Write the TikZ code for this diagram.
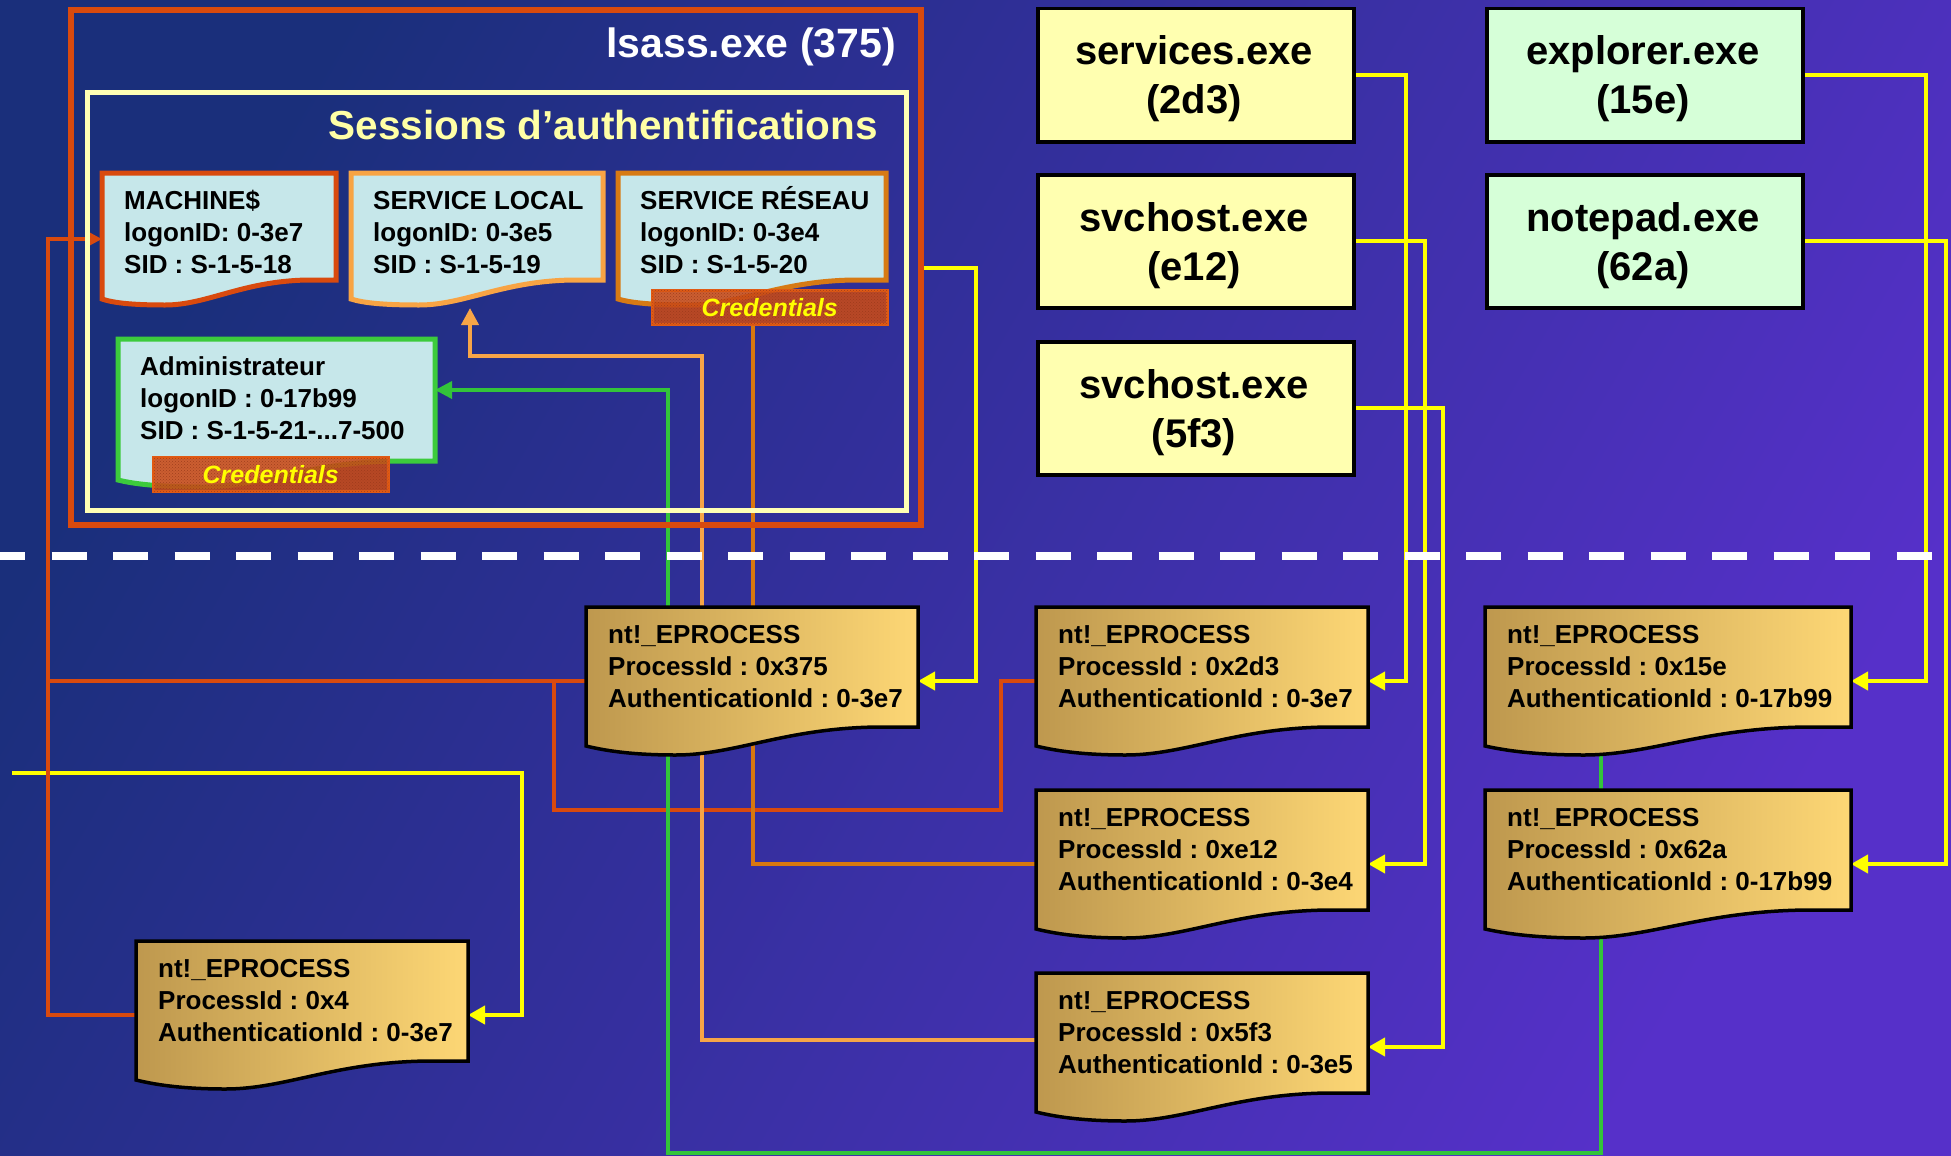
\documentclass[tikz,border=0pt]{standalone}
\usepackage{fontspec}
\setmainfont{Liberation Sans}
\usetikzlibrary{arrows.meta,calc,patterns}
\frenchspacing
\pgfdeclarelayer{bg}
\pgfdeclarelayer{conn}
\pgfsetlayers{bg,conn,main}
\definecolor{bgTL}{HTML}{1A2F7B}
\definecolor{bgBR}{HTML}{5630C9}
\definecolor{lsassRed}{HTML}{D94A0E}
\definecolor{creamLine}{HTML}{FFFFB4}
\definecolor{sessTxt}{HTML}{FFFFA6}
\definecolor{docCyan}{HTML}{C6E7EA}
\definecolor{slocalOr}{HTML}{F8A444}
\definecolor{sreseauOr}{HTML}{D77A14}
\definecolor{adminGreen}{HTML}{3CCB3C}
\definecolor{credFill}{HTML}{CC4C18}
\definecolor{credBorder}{HTML}{E05A14}
\definecolor{credDot}{HTML}{9A3A1A}
\definecolor{procYellow}{HTML}{FFFFB0}
\definecolor{procGreen}{HTML}{D6FFD8}
\definecolor{goldA}{HTML}{BE984E}
\definecolor{goldB}{HTML}{FDD775}
\definecolor{yLink}{HTML}{FFFF00}
\definecolor{gLink}{HTML}{33C43A}
\definecolor{oLink}{HTML}{D8780F}
\definecolor{loLink}{HTML}{F7A547}
\tikzset{
  docbox/.style={inner sep=0pt, outer sep=0pt},
  doctext/.style={inner sep=0pt, font=\fontsize{26}{32}\selectfont\bfseries, text=black},
  sessdoc/.style={fill=docCyan, line width=5pt},
  eproc/.style={left color=goldA, right color=goldB, draw=black, line width=3.5pt},
  procbox/.style={draw=black, line width=3.5pt, minimum width=316, minimum height=133, inner sep=0pt},
  proctext/.style={inner sep=0pt, font=\fontsize{40}{49}\selectfont\bfseries, text=black},
  credbox/.style={fill=credFill, draw=credBorder, line width=2.5pt, fill opacity=0.88, text opacity=1,
    minimum width=235, minimum height=34, inner sep=0pt, anchor=north west,
    font=\fontsize{25}{30}\selectfont\bfseries\itshape, text=yLink,
    postaction={pattern=crosshatch dots, pattern color=credDot}},
  ylink/.style={draw=yLink, line width=4pt, -{Triangle[length=17pt,width=18pt]}},
  rlink/.style={draw=lsassRed, line width=4pt},
  olink/.style={draw=oLink, line width=4pt},
  lolink/.style={draw=loLink, line width=4pt},
  glink/.style={draw=gLink, line width=3.5pt},
  tipA/.style={-{Triangle[length=17pt,width=17pt]}},
}
% #1 name, #2 style, #3 x, #4 y, #5 width, #6 right-bottom, #7 left-bottom, #8 lowest, #9 lines
\newcommand\docnode[9]{%
  \path[#2] (#3,#4) -- (#3+#5,#4) -- (#3+#5,#4+#6) -- (#3+0.88*#5,#4+#6)
     .. controls (#3+0.6*#5,#4+#6+1) and (#3+0.45*#5,#4+#8) .. (#3+0.27*#5,#4+#8)
     .. controls (#3+0.13*#5,#4+#8) and (#3+0.05*#5,#4+#7+4) .. (#3,#4+#7) -- cycle;
  \node[docbox, minimum width=#5, minimum height=#8, anchor=north west] (#1) at (#3,#4) {};
  \node[doctext, anchor=base west] (#1t) at (#3+22,#4+36) {\begin{tabular}[t]{@{}l@{}}#9\end{tabular}};
}
% #1 name, #2 fill, #3 x, #4 y, #5 line1, #6 line2
\newcommand\procnode[6]{%
  \node[procbox, fill=#2, anchor=north west] (#1) at (#3,#4) {};
  \node[proctext, anchor=base] (#1t) at (#3+158,#4+58) {\begin{tabular}[t]{@{}c@{}}#5\\#6\end{tabular}};
}
\begin{document}
\begin{tikzpicture}[x=1pt,y=-1pt]
\useasboundingbox (0,0) rectangle (1951,1156);
\begin{pgfonlayer}{bg}
  \shade[top color=bgTL, bottom color=bgBR, shading angle=60] (0,0) rectangle (1951,1156);
\end{pgfonlayer}

% dashed separator
\coordinate (dashL) at (-10,556);
\coordinate (dashR) at (1938,556);
\draw[white, line width=8pt, dash pattern=on 35pt off 26.5pt] (dashL) -- (dashR);

% lsass frame
\node[draw=lsassRed, line width=6pt, minimum width=850, minimum height=515, inner sep=0pt, anchor=north west] (lsass) at (68,7) {};
\node[anchor=base east, inner sep=0pt, text=white, font=\fontsize{41}{49}\selectfont\bfseries] (lsasst) at (896,58) {lsass.exe (375)};
\node[draw=creamLine, line width=5pt, minimum width=819, minimum height=418, inner sep=0pt, anchor=north west] (sess) at (85,90) {};
\node[anchor=base east, inner sep=0pt, text=sessTxt, font=\fontsize{40.5}{48}\selectfont\bfseries] (sesst) at (878,139) {Sessions d’authentifications};

% logon sessions
\docnode{mach}{sessdoc, draw=lsassRed}{102}{173}{234}{107}{126}{132}{MACHINE\$\\logonID: 0-3e7\\SID : S-1-5-18}
\docnode{slocal}{sessdoc, draw=slocalOr}{351}{173}{252}{107}{126}{132}{SERVICE LOCAL\\logonID: 0-3e5\\SID : S-1-5-19}
\docnode{sreseau}{sessdoc, draw=sreseauOr}{618}{173}{268}{107}{126}{132}{SERVICE RÉSEAU\\logonID: 0-3e4\\SID : S-1-5-20}
\node[credbox] (cred1) at (651,289) {Credentials};
\docnode{admin}{sessdoc, draw=adminGreen}{118}{339}{317}{122}{141}{148}{Administrateur\\logonID : 0-17b99\\SID : S-1-5-21-...7-500}
\node[credbox] (cred2) at (152,456) {Credentials};

% user-mode processes
\procnode{svc}{procYellow}{1036}{7}{services.exe}{(2d3)}
\procnode{e12}{procYellow}{1036}{173}{svchost.exe}{(e12)}
\procnode{f53}{procYellow}{1036}{340}{svchost.exe}{(5f3)}
\procnode{expl}{procGreen}{1485}{7}{explorer.exe}{(15e)}
\procnode{note}{procGreen}{1485}{173}{notepad.exe}{(62a)}

% kernel EPROCESS
\docnode{p375}{eproc}{586}{607}{332}{120}{139}{148}{nt!\_EPROCESS\\ProcessId : 0x375\\AuthenticationId : 0-3e7}
\docnode{p4}{eproc}{136}{941}{332}{120}{139}{148}{nt!\_EPROCESS\\ProcessId : 0x4\\AuthenticationId : 0-3e7}
\docnode{p2d3}{eproc}{1036}{607}{332}{120}{139}{148}{nt!\_EPROCESS\\ProcessId : 0x2d3\\AuthenticationId : 0-3e7}
\docnode{pe12}{eproc}{1036}{790}{332}{120}{139}{148}{nt!\_EPROCESS\\ProcessId : 0xe12\\AuthenticationId : 0-3e4}
\docnode{p5f3}{eproc}{1036}{973}{332}{120}{139}{148}{nt!\_EPROCESS\\ProcessId : 0x5f3\\AuthenticationId : 0-3e5}
\docnode{p15e}{eproc}{1485}{607}{366}{120}{139}{148}{nt!\_EPROCESS\\ProcessId : 0x15e\\AuthenticationId : 0-17b99}
\docnode{p62a}{eproc}{1485}{790}{366}{120}{139}{148}{nt!\_EPROCESS\\ProcessId : 0x62a\\AuthenticationId : 0-17b99}

\begin{pgfonlayer}{conn}
  % yellow: process -> EPROCESS
  \draw[ylink] (lsass.east) -- ++(52,0) |- (p375.east);
  \draw[ylink] (svc.east) -- ++(50,0) |- (p2d3.east);
  \draw[ylink] (e12.east) -- ++(69,0) |- (pe12.east);
  \draw[ylink] (f53.east) -- ++(87,0) |- (p5f3.east);
  \draw[ylink] (expl.east) -- ++(121,0) |- (p15e.east);
  \draw[ylink] (note.east) -- ++(141,0) |- (p62a.east);
  \coordinate (ystart) at (12,773);
  \draw[ylink] (ystart) -- ++(510,0) |- (p4.east);
  % red: 0-3e7 -> MACHINE$
  \draw[rlink, tipA] (p4.west) -- ++(-88,0) |- (mach.west);
  \draw[rlink] (p375.west) -- ++(-538,0);
  \draw[rlink] (p2d3.west) -- ++(-35,0) -- ++(0,129) -| ($(p375.west)+(-32,0)$);
  % orange: 0-3e4 -> SERVICE RESEAU credentials
  \draw[olink] ($(cred1.south)+(-17,0)$) |- (pe12.west);
  % light orange: 0-3e5 -> SERVICE LOCAL
  \draw[lolink, tipA] ($(p5f3.west)+(0,-7)$) -- ++(-334,0) |- ($(slocal.south)+(-7,51)$) -- ($(slocal.south)+(-7,3)$);
  % green: 0-17b99 -> Administrateur
  \draw[glink, tipA] ($(p62a.south)+(-67,0)$) -- ++(0,215) -| ($(admin.east)+(233,-23)$) -- ($(admin.east)+(0,-23)$);
  \draw[glink] ($(p15e.south)+(-67,0)$) -- ($(p62a.north)+(-67,0)$);
\end{pgfonlayer}
\end{tikzpicture}
\end{document}
